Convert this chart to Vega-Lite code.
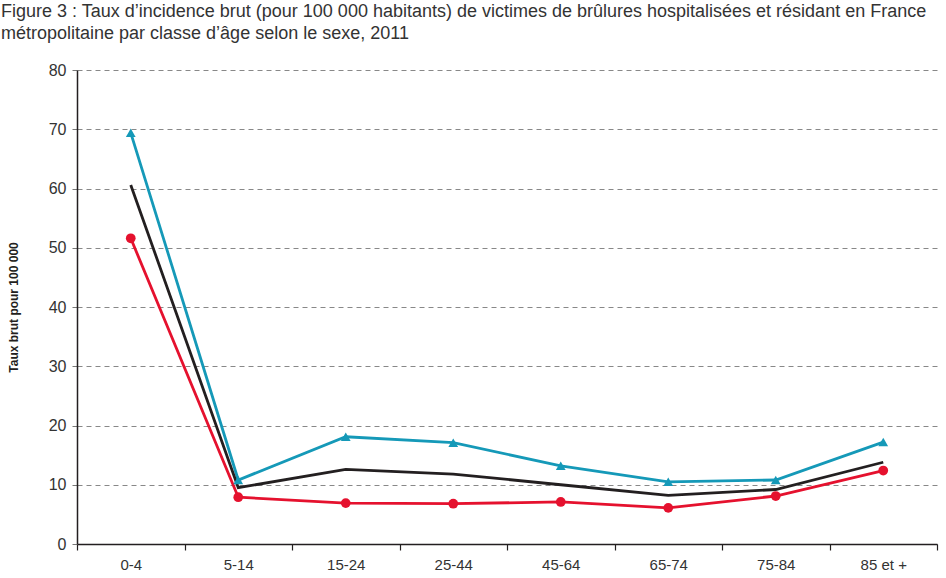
{
  "$schema": "https://vega.github.io/schema/vega-lite/v6.json",
  "autosize": {"type": "none"},
  "padding": {"left": 77, "top": 70, "right": 9, "bottom": 34},
  "width": 860,
  "height": 474,
  "background": "white",
  "title": {
    "text": ["Figure 3 : Taux d’incidence brut (pour 100 000 habitants) de victimes de brûlures hospitalisées et résidant en France", "métropolitaine par classe d’âge selon le sexe, 2011"],
    "anchor": "start",
    "frame": "group",
    "dx": -76,
    "offset": 19,
    "font": "Liberation Sans",
    "fontSize": 18,
    "fontWeight": "normal",
    "color": "#333333",
    "lineHeight": 22
  },
  "config": {
    "view": {"stroke": null},
    "axis": {"labelFont": "Liberation Sans", "titleFont": "Liberation Sans"}
  },
  "data": {
    "values": [
      {"age": "0-4", "serie": "Hommes", "taux": 69.4},
      {"age": "5-14", "serie": "Hommes", "taux": 10.8},
      {"age": "15-24", "serie": "Hommes", "taux": 18.1},
      {"age": "25-44", "serie": "Hommes", "taux": 17.1},
      {"age": "45-64", "serie": "Hommes", "taux": 13.2},
      {"age": "65-74", "serie": "Hommes", "taux": 10.5},
      {"age": "75-84", "serie": "Hommes", "taux": 10.8},
      {"age": "85 et +", "serie": "Hommes", "taux": 17.2},
      {"age": "0-4", "serie": "Ensemble", "taux": 60.6},
      {"age": "5-14", "serie": "Ensemble", "taux": 9.5},
      {"age": "15-24", "serie": "Ensemble", "taux": 12.6},
      {"age": "25-44", "serie": "Ensemble", "taux": 11.8},
      {"age": "45-64", "serie": "Ensemble", "taux": 10.0},
      {"age": "65-74", "serie": "Ensemble", "taux": 8.2},
      {"age": "75-84", "serie": "Ensemble", "taux": 9.2},
      {"age": "85 et +", "serie": "Ensemble", "taux": 13.8},
      {"age": "0-4", "serie": "Femmes", "taux": 51.6},
      {"age": "5-14", "serie": "Femmes", "taux": 7.9},
      {"age": "15-24", "serie": "Femmes", "taux": 6.9},
      {"age": "25-44", "serie": "Femmes", "taux": 6.8},
      {"age": "45-64", "serie": "Femmes", "taux": 7.1},
      {"age": "65-74", "serie": "Femmes", "taux": 6.1},
      {"age": "75-84", "serie": "Femmes", "taux": 8.1},
      {"age": "85 et +", "serie": "Femmes", "taux": 12.4}
    ]
  },
  "encoding": {
    "x": {
      "field": "age", "type": "nominal", "sort": null,
      "scale": {"paddingInner": 0, "paddingOuter": 0},
      "axis": {
        "title": null, "labelAngle": 0, "labelFontSize": 15, "labelColor": "#333333",
        "domainColor": "#231f20", "domainWidth": 1.5, "tickColor": "#231f20", "tickWidth": 1.2,
        "tickSize": 6, "tickBand": "extent", "labelPadding": 7, "grid": false
      }
    },
    "y": {
      "field": "taux", "type": "quantitative",
      "scale": {"domain": [0, 80], "nice": false},
      "axis": {
        "title": "Taux brut pour 100 000", "titleFontSize": 12, "titleFontWeight": "bold", "titleColor": "#231f20",
        "titlePadding": 28,
        "values": [0, 10, 20, 30, 40, 50, 60, 70, 80],
        "labelFontSize": 16, "labelColor": "#333333", "labelPadding": 5,
        "domainColor": "#231f20", "domainWidth": 1.5,
        "tickColor": "#777777", "tickSize": 6, "tickDash": [5, 4],
        "grid": true, "gridColor": "#888888", "gridDash": [5, 4], "gridWidth": 1
      }
    },
    "color": {
      "field": "serie", "type": "nominal",
      "scale": {"domain": ["Hommes", "Ensemble", "Femmes"], "range": ["#1599b8", "#231f20", "#e5112e"]},
      "legend": null
    }
  },
  "layer": [
    {"mark": {"type": "line", "strokeWidth": 2.8}},
    {
      "transform": [{"filter": "datum.serie != 'Ensemble'"}],
      "mark": {"type": "point", "filled": true, "opacity": 1, "size": 95},
      "encoding": {
        "shape": {
          "field": "serie", "type": "nominal",
          "scale": {"domain": ["Hommes", "Femmes"], "range": ["triangle-up", "circle"]},
          "legend": null
        }
      }
    }
  ]
}
